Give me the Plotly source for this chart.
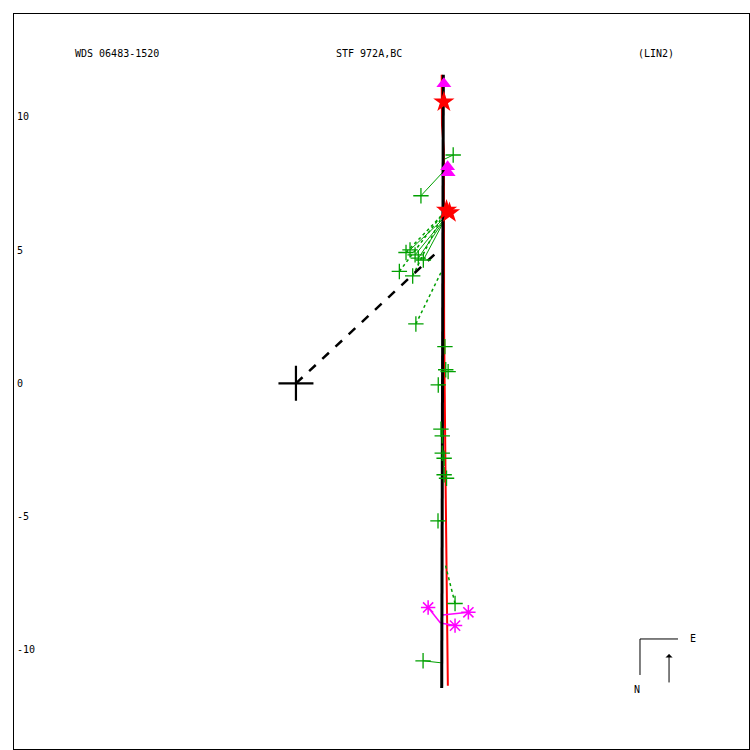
import plotly.graph_objects as go

# ---------------- data (arcsec) ----------------
orbit_x = [5.53, 5.52, 5.51, 5.49, 5.48, 5.47]
orbit_y = [11.58, 6.89, 3.88, 0.13, -6.25, -11.43]

old_orbit_x = [5.47, 5.48, 5.55, 5.56, 5.61, 5.64, 5.68, 5.70]
old_orbit_y = [11.58, 9.70, 8.76, 2.01, -3.25, -6.44, -9.62, -11.35]

node_x = [0.0, 5.30]
node_y = [0.0, 4.93]

# micrometer measures (green +) and their predicted positions on the orbit
micro_x = [5.90, 4.69, 4.28, 4.47, 4.59, 4.78, 5.59, 5.62, 5.71, 5.34, 5.44, 5.49,
           5.49, 5.56, 5.56, 5.65, 5.33, 4.77]
micro_y = [8.57, 7.04, 5.01, 4.82, 4.70, 4.63, 1.38, 0.51, 0.44, -0.06, -1.72, -1.97,
           -2.62, -2.81, -3.43, -3.56, -5.16, -10.41]
micro_px = [5.59, 5.49, 5.50, 5.50, 5.51, 5.51, 5.52, 5.52, 5.52, 5.51, 5.50, 5.50,
            5.50, 5.50, 5.49, 5.49, 5.49, 5.48]
micro_py = [8.42, 7.90, 6.14, 6.08, 6.05, 6.00, 1.40, 0.55, 0.45, -0.05, -1.70, -1.95,
            -2.60, -2.80, -3.40, -3.55, -5.15, -10.49]

# rejected micrometer measures (green +, dotted O-C)
rej_x = [4.13, 3.88, 4.38, 4.50, 5.97]
rej_y = [4.91, 4.20, 4.03, 2.23, -8.26]
rej_px = [5.47, 5.47, 5.48, 5.49, 5.59]
rej_py = [6.30, 6.32, 6.28, 4.26, -6.74]

# speckle measures (magenta asterisks)
spk_x = [4.96, 6.47, 5.97]
spk_y = [-8.41, -8.59, -9.09]
spk_px = [5.43, 5.50, 5.47]
spk_py = [-9.00, -8.69, -9.00]

# other measures
tri_x = [5.55, 5.69, 5.71]
tri_y = [11.24, 8.13, 7.90]
star_x = [5.55, 5.65, 5.76]
star_y = [10.56, 6.50, 6.40]

yticks = [10, 5, 0, -5, -10]

GREEN = "#00a000"
MAGENTA = "#ff00ff"
RED = "#ff0000"


def segs(x0, y0, x1, y1):
    xs, ys = [], []
    for a, b, c, d in zip(x0, y0, x1, y1):
        xs += [a, c, None]
        ys += [b, d, None]
    return xs, ys


fig = go.Figure()

fig.add_trace(go.Scatter(x=old_orbit_x, y=old_orbit_y, mode="lines",
                         line=dict(color=RED, width=2), hoverinfo="skip"))

mx, my = segs(micro_x, micro_y, micro_px, micro_py)
fig.add_trace(go.Scatter(x=mx, y=my, mode="lines",
                         line=dict(color=GREEN, width=1)))
rx, ry = segs(rej_x, rej_y, rej_px, rej_py)
fig.add_trace(go.Scatter(x=rx, y=ry, mode="lines",
                         line=dict(color=GREEN, width=1.5, dash="dot")))
sx, sy = segs(spk_x, spk_y, spk_px, spk_py)
fig.add_trace(go.Scatter(x=sx, y=sy, mode="lines",
                         line=dict(color=MAGENTA, width=1.5)))

fig.add_trace(go.Scatter(x=orbit_x, y=orbit_y, mode="lines",
                         line=dict(color="black", width=3)))
fig.add_trace(go.Scatter(x=node_x, y=node_y, mode="lines",
                         line=dict(color="black", width=2.5, dash="dash")))

fig.add_trace(go.Scatter(x=micro_x + rej_x, y=micro_y + rej_y, mode="markers",
                         marker=dict(symbol="cross-thin-open", size=11, color=GREEN,
                                     line=dict(color=GREEN, width=1.3))))
fig.add_trace(go.Scatter(x=spk_x, y=spk_y, mode="markers",
                         marker=dict(symbol="asterisk-open", size=12, color=MAGENTA,
                                     line=dict(color=MAGENTA, width=1.5))))
fig.add_trace(go.Scatter(x=tri_x, y=tri_y, mode="markers",
                         marker=dict(symbol="triangle-up", size=13, color=MAGENTA)))
fig.add_trace(go.Scatter(x=star_x, y=star_y, mode="markers",
                         marker=dict(symbol="star", size=16, color=RED)))
fig.add_trace(go.Scatter(x=[0], y=[0], mode="markers",
                         marker=dict(symbol="cross-thin-open", size=25, color="black",
                                     line=dict(color="black", width=2.2))))

mono = "DejaVu Sans Mono"
fig.update_layout(
    width=750, height=750,
    margin=dict(l=14, r=1, t=14, b=1),
    paper_bgcolor="white", plot_bgcolor="white",
    showlegend=False,
    font=dict(family=mono, size=10, color="black"),
    xaxis=dict(range=[-10.58, 17.0], showgrid=False, zeroline=False,
               showticklabels=False, ticks="", showline=True, mirror=True,
               linecolor="black", linewidth=1),
    yaxis=dict(range=[-13.72, 13.86], showgrid=False, zeroline=False,
               tickvals=yticks, ticktext=[str(v) for v in yticks],
               ticks="", ticklabelposition="inside", ticklabelstandoff=2,
               tickfont=dict(family=mono, size=10, color="black"),
               showline=True, mirror=True, linecolor="black", linewidth=1),
)

for txt, xp in [("WDS 06483-1520", 0.080), ("STF 972A,BC", 0.435), ("(LIN2)", 0.846)]:
    fig.add_annotation(x=xp, y=0.9456, xref="paper", yref="paper", text=txt,
                       showarrow=False, xanchor="left", yanchor="middle",
                       font=dict(family=mono, size=10, color="black"))

# compass
fig.add_shape(type="line", xref="paper", yref="paper", x0=0.8517, y0=0.1497,
              x1=0.8517, y1=0.1007, line=dict(color="black", width=1))
fig.add_shape(type="line", xref="paper", yref="paper", x0=0.8517, y0=0.1497,
              x1=0.9034, y1=0.1497, line=dict(color="black", width=1))
fig.add_annotation(x=0.8912, y=0.1293, ax=0, ay=30, xref="paper", yref="paper",
                   axref="pixel", ayref="pixel", text="", showarrow=True,
                   arrowhead=1, arrowsize=1.2, arrowwidth=1, arrowcolor="black")
fig.add_annotation(x=0.917, y=0.151, xref="paper", yref="paper", text="E",
                   showarrow=False, xanchor="left", yanchor="middle",
                   font=dict(family=mono, size=10, color="black"))
fig.add_annotation(x=0.8476, y=0.0803, xref="paper", yref="paper", text="N",
                   showarrow=False, xanchor="center", yanchor="middle",
                   font=dict(family=mono, size=10, color="black"))

fig.write_html("out.html", config={"displayModeBar": False},
               post_script="document.body.style.margin='0';")
